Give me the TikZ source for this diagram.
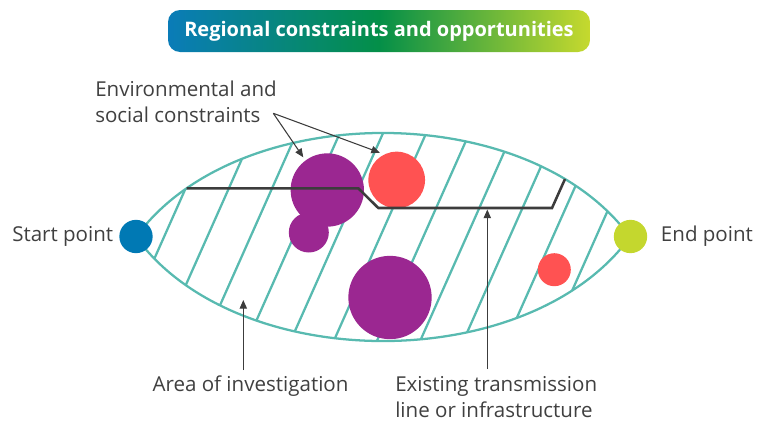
\documentclass[tikz,border=0pt]{standalone}
\usepackage{fontspec}
\setmainfont{Open Sans}
\usetikzlibrary{arrows.meta}
\definecolor{teal1}{RGB}{88,186,176}
\definecolor{purp}{RGB}{155,39,145}
\definecolor{redc}{RGB}{255,82,82}
\definecolor{bluec}{RGB}{0,121,180}
\definecolor{limec}{RGB}{196,215,46}
\definecolor{txt}{RGB}{64,64,64}
\definecolor{lineg}{RGB}{60,60,60}
\definecolor{tblue}{RGB}{10,124,184}
\definecolor{tgreen}{RGB}{4,143,72}
\definecolor{tlime}{RGB}{198,217,46}
\pgfdeclarehorizontalshading{titlegrad}{100bp}{color(0bp)=(tblue); color(25bp)=(tblue); color(50bp)=(tgreen); color(75bp)=(tlime); color(100bp)=(tlime)}
\begin{document}
\begin{tikzpicture}[x=0.75pt,y=-0.75pt,
  lbl/.style={text=txt, font=\fontsize{15.4}{19.5}\selectfont, inner sep=0pt},
  dot/.style={circle, inner sep=0pt, minimum size=#1},
  ptr/.style={draw=lineg, line width=0.8pt, -{Triangle[length=6.5pt,width=5.5pt]}},
  hatch/.style={draw=teal1, line width=1.7pt},
  route/.style={draw=lineg, line width=1.9pt, line join=miter}
]
\useasboundingbox (0,0) rectangle (766,421);
\node[rounded corners=9pt, shading=titlegrad, minimum width=316.5pt, minimum height=31.5pt, inner sep=0pt, text=white, font=\bfseries\fontsize{15}{18}\selectfont] (title) at (379,31) {Regional constraints and opportunities};
\begin{scope}
\clip (136,237) .. controls (237,98.3) and (529,98.3) .. (630,237) .. controls (529,375.7) and (237,375.7) .. (136,237) -- cycle;
\foreach \k in {0,...,10} {
  \pgfmathsetmacro{\xo}{164+43.2*\k}
  \draw[hatch] (\xo+62.3,97) -- (\xo-55.2,361);
}
\end{scope}
\draw[hatch] (136,237) .. controls (237,98.3) and (529,98.3) .. (630,237) .. controls (529,375.7) and (237,375.7) .. (136,237) -- cycle;
\node[dot=55pt, fill=purp] (p1) at (327.3,190) {};
\node[dot=30pt, fill=purp] (p2) at (308.8,232.5) {};
\node[dot=62.5pt, fill=purp] (p3) at (390,297.5) {};
\node[dot=42.5pt, fill=redc] (r1) at (396.7,180) {};
\node[dot=24.75pt, fill=redc] (r2) at (554.3,269.7) {};
\node[dot=25pt, fill=bluec] (start) at (136,236.5) {};
\node[dot=25pt, fill=limec] (end) at (630.5,236.5) {};
\coordinate (rA) at (186.7,188.3);
\coordinate (rB) at (358.3,188.3);
\coordinate (rC) at (378.3,208);
\coordinate (rD) at (552,208);
\coordinate (rE) at (565,179);
\draw[route] (rA) -- (rB) -- (rC) -- (rD) -- (rE);
\node[lbl, anchor=base west, align=left] (env) at (95,122.5) {Environmental and\\social constraints};
\node[lbl, anchor=base west] (startl) at (12,241.7) {Start point};
\node[lbl, anchor=base west] (endl) at (660.7,241.7) {End point};
\node[lbl, anchor=base west] (area) at (152.3,391.7) {Area of investigation};
\node[lbl, anchor=base west, align=left] (exist) at (395,417.5) {Existing transmission\\line or infrastructure};
\coordinate (envsrc) at (273.3,113.3);
\coordinate (envt1) at (303.3,157.3);
\coordinate (envt2) at (380,152.7);
\draw[ptr] (envsrc) -- (envt1);
\draw[ptr] (envsrc) -- (envt2);
\coordinate (areatail) at (243.3,370);
\coordinate (areatip) at (243.3,300);
\draw[ptr] (areatail) -- (areatip);
\coordinate (exttail) at (487.3,369);
\coordinate (exttip) at (487.3,209.5);
\draw[ptr] (exttail) -- (exttip);
\end{tikzpicture}
\end{document}
